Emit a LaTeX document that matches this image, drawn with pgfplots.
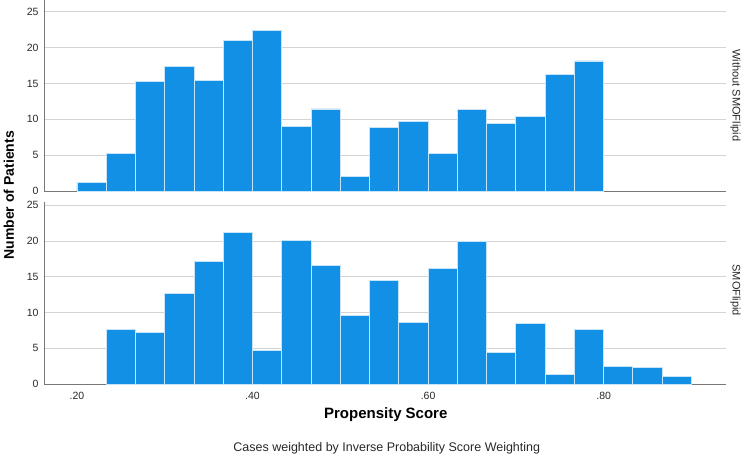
\documentclass[border=0pt]{standalone}
\usepackage{pgfplots}
\pgfplotsset{compat=1.18}
\usepackage{fontspec}
\setmainfont{Liberation Sans}
\definecolor{barblue}{RGB}{18,144,230}
\definecolor{baredge}{RGB}{200,228,248}
\definecolor{gridgray}{RGB}{212,212,212}
\definecolor{axgray}{RGB}{120,120,120}
\definecolor{txtgray}{RGB}{40,40,40}
\pgfplotsset{
  panel/.style={
    scale only axis, width=682bp,
    xmin=0.1624, xmax=0.9389, ymin=0,
    axis x line*=bottom, axis y line*=left,
    axis line style={axgray, line width=0.9bp},
    ymajorgrids, grid style={gridgray, line width=0.9bp},
    ytick={0,5,10,15,20,25},
    major tick length=0,
    /pgf/number format/assume math mode=true,
    tick label style={font=\fontsize{10.5bp}{12bp}\selectfont, text=txtgray},
    yticklabel style={xshift=-2bp},
    clip=false,
  },
  bars/.style={ybar interval, fill=barblue, draw=baredge, line width=0.9bp},
}
\begin{document}
\begin{tikzpicture}[x=1bp,y=1bp]
\path (0,0) rectangle (744,463);
% top panel
\begin{axis}[panel, at={(44bp,272.3bp)}, anchor=south west,
  height=190.7bp, ymax=26.6, xtick=\empty]
\addplot[bars] coordinates {
(0.20000,1.2) (0.23333,5.3) (0.26667,15.3) (0.30000,17.4) (0.33333,15.4)
(0.36667,20.95) (0.40000,22.35) (0.43333,8.95) (0.46667,11.45) (0.50000,2.0)
(0.53333,8.9) (0.56667,9.7) (0.60000,5.3) (0.63333,11.35) (0.66667,9.4)
(0.70000,10.4) (0.73333,16.3) (0.76667,18.15) (0.80000,0)
};
\end{axis}
% bottom panel
\begin{axis}[panel, at={(44bp,79bp)}, anchor=south west,
  height=182.3bp, ymax=25.46,
  xtick={0.2,0.4,0.6,0.8}, xticklabels={.20,.40,.60,.80},
  xticklabel style={yshift=-4bp}]
\addplot[bars] coordinates {
(0.23333,7.6) (0.26667,7.2) (0.30000,12.7) (0.33333,17.15)
(0.36667,21.2) (0.40000,4.75) (0.43333,20.05) (0.46667,16.6) (0.50000,9.65)
(0.53333,14.55) (0.56667,8.6) (0.60000,16.2) (0.63333,19.95) (0.66667,4.4)
(0.70000,8.45) (0.73333,1.35) (0.76667,7.65) (0.80000,2.45) (0.83333,2.35)
(0.86667,1.1) (0.90000,0)
};
\end{axis}
\node[rotate=90, font=\bfseries\fontsize{14bp}{16bp}\selectfont, text=black] at (9,268) {Number of Patients};
\node[rotate=-90, font=\fontsize{11bp}{13bp}\selectfont, text=txtgray] at (736,368) {Without SMOFlipid};
\node[rotate=-90, font=\fontsize{11bp}{13bp}\selectfont, text=txtgray] at (736,173) {SMOFlipid};
\node[font=\bfseries\fontsize{15bp}{17bp}\selectfont, text=black] at (386,49) {Propensity Score};
\node[font=\fontsize{12.5bp}{14bp}\selectfont, text=txtgray] at (387,15) {Cases weighted by Inverse Probability Score Weighting};
\end{tikzpicture}
\end{document}
